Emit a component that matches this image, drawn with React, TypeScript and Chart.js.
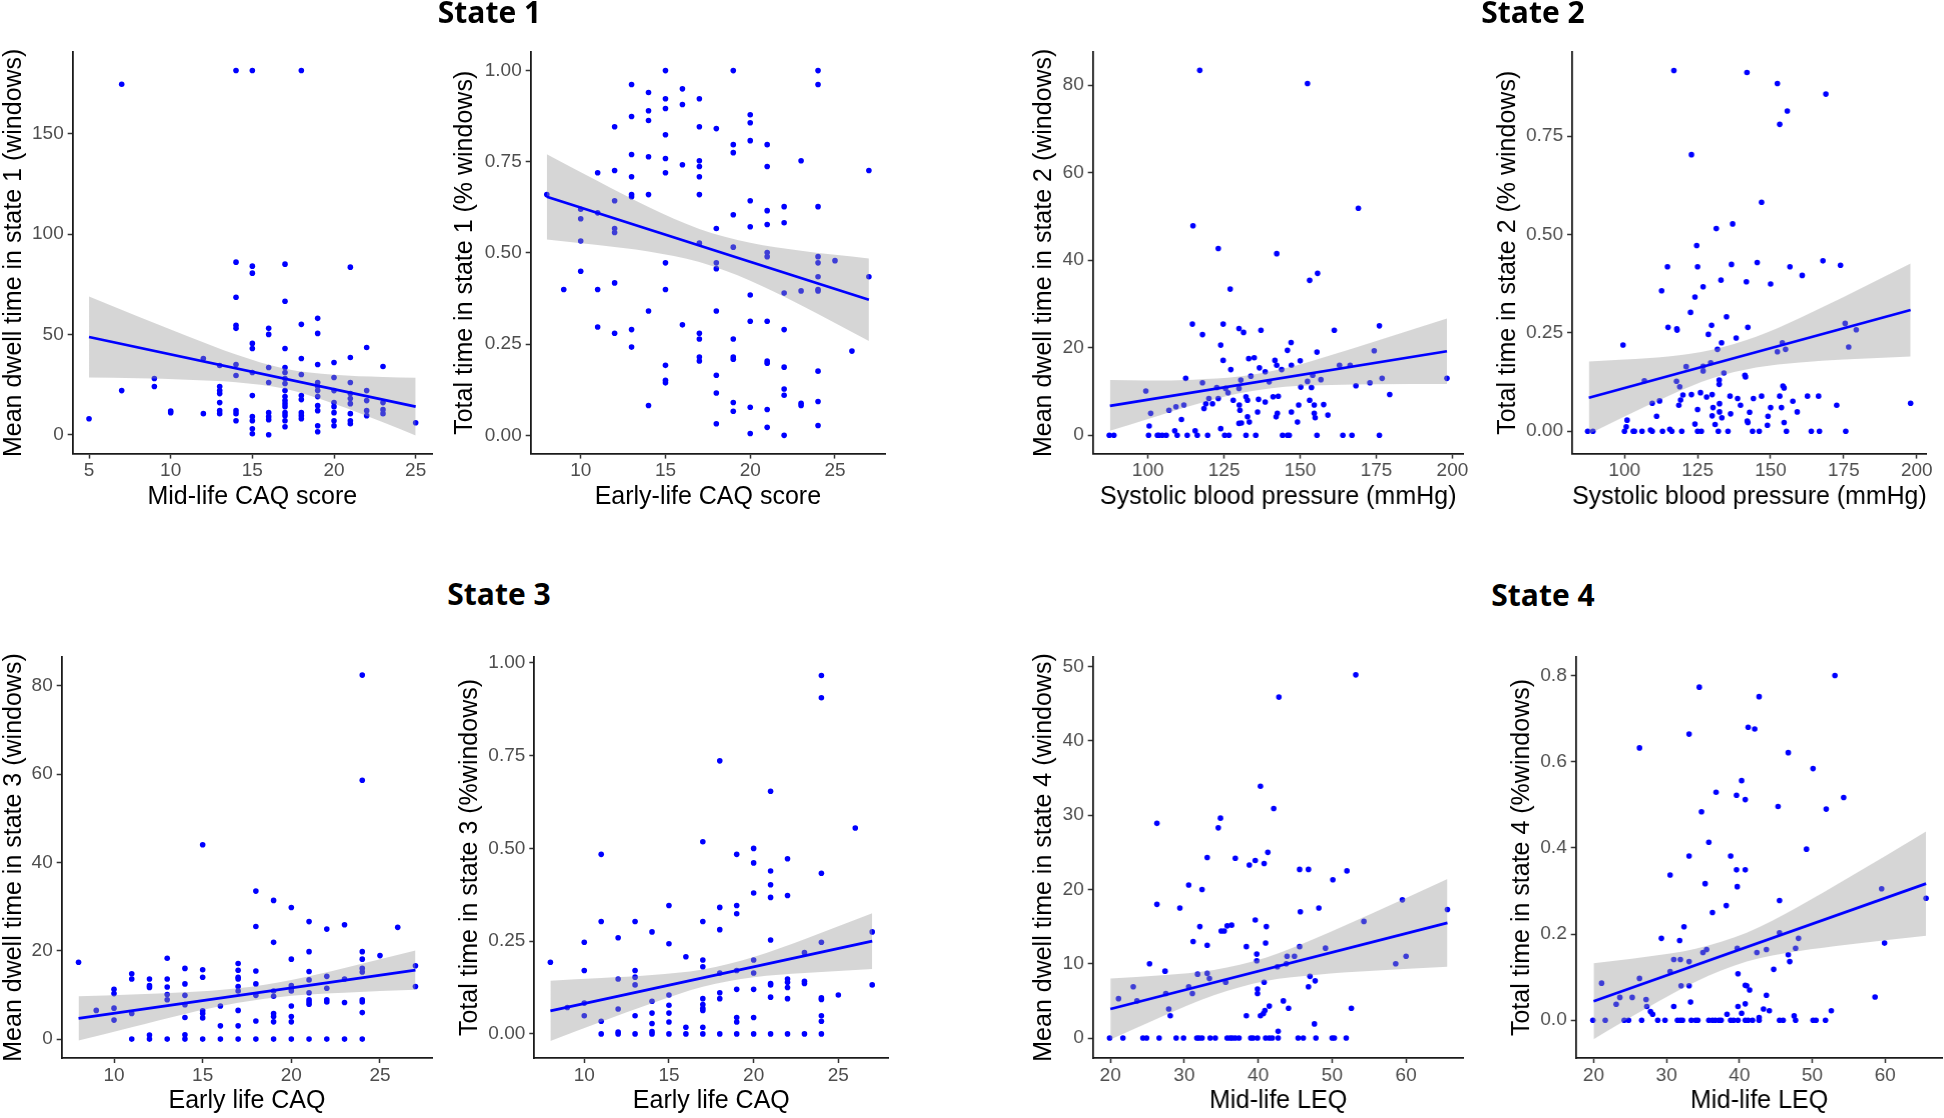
import React, { useEffect, useRef } from "react";
import { Chart, registerables } from "chart.js";

Chart.register(...registerables);

type Pt = [number, number];

// ---------------- State 1 : mean dwell time vs mid-life CAQ ----------------
const s1DwellPoints: Pt[] = [
  [5, 8], [7, 174.6], [7, 22], [9, 28], [9, 24], [10, 11], [10, 11.8], [12, 38], [12, 10.5],
  [13, 34.5], [13, 24], [13, 22], [13, 20.5], [13, 16], [13, 12], [13, 10.5],
  [14, 181.5], [14, 86], [14, 68.5], [14, 54.5], [14, 53], [14, 35], [14, 29.5], [14, 12], [14, 10.5], [14, 7],
  [15, 181.5], [15, 84], [15, 80.5], [15, 45.5], [15, 43], [15, 31], [15, 19.5], [15, 9], [15, 7], [15, 3], [15, 0.5],
  [16, 53], [16, 50], [16, 33.5], [16, 26], [16, 11], [16, 9], [16, 7.5], [16, 0],
  [17, 85], [17, 66.5], [17, 43], [17, 33.5], [17, 31], [17, 28], [17, 25.5], [17, 22], [17, 19], [17, 17], [17, 15.5], [17, 14], [17, 11], [17, 9.5], [17, 7], [17, 4],
  [18, 181.5], [18, 55], [18, 38], [18, 30], [18, 19.5], [18, 17.5], [18, 11], [18, 9.5], [18, 8],
  [19, 58], [19, 50.5], [19, 35], [19, 26], [19, 24], [19, 22], [19, 19], [19, 14.5], [19, 12], [19, 4.5], [19, 1.5],
  [20, 36], [20, 28.5], [20, 22], [20, 16], [20, 14], [20, 11], [20, 7], [20, 4.5],
  [21, 83.5], [21, 38.5], [21, 26], [21, 20.5], [21, 18], [21, 15.5], [21, 10.5], [21, 7], [21, 5.5],
  [22, 43.5], [22, 22], [22, 17], [22, 12], [22, 9.5],
  [23, 34], [23, 16], [23, 12.5], [23, 10.5],
  [25, 6],
];
const s1DwellFit: Pt[] = [[5, 48.7], [25, 14]];
const s1DwellBandX = [5, 8, 11, 14, 17, 20, 23, 25];
const s1DwellBandHi = [68.9, 58.9, 49.2, 40.0, 32.9, 29.9, 28.8, 28.4];
const s1DwellBandLo = [28.5, 28.1, 27.4, 26.2, 22.9, 15.5, 6.2, -0.4];

// ---------------- State 1 : total time vs early-life CAQ ----------------
const s1TotalPoints: Pt[] = [
  [8, 0.66], [9, 0.4], [10, 0.62], [10, 0.594], [10, 0.533], [10, 0.45],
  [11, 0.72], [11, 0.61], [11, 0.4], [11, 0.297],
  [12, 0.846], [12, 0.726], [12, 0.643], [12, 0.567], [12, 0.556], [12, 0.418], [12, 0.28],
  [13, 0.962], [13, 0.874], [13, 0.77], [13, 0.709], [13, 0.66], [13, 0.654], [13, 0.29], [13, 0.242],
  [14, 0.94], [14, 0.89], [14, 0.863], [14, 0.764], [14, 0.66], [14, 0.341], [14, 0.082],
  [15, 1.0], [15, 0.923], [15, 0.896], [15, 0.824], [15, 0.759], [15, 0.72], [15, 0.473], [15, 0.4], [15, 0.192], [15, 0.151], [15, 0.144],
  [16, 0.95], [16, 0.907], [16, 0.742], [16, 0.303],
  [17, 0.923], [17, 0.846], [17, 0.753], [17, 0.737], [17, 0.709], [17, 0.66], [17, 0.527], [17, 0.28], [17, 0.264], [17, 0.215], [17, 0.204],
  [18, 0.841], [18, 0.567], [18, 0.473], [18, 0.457], [18, 0.341], [18, 0.165], [18, 0.116], [18, 0.032],
  [19, 1.0], [19, 0.797], [19, 0.775], [19, 0.605], [19, 0.516], [19, 0.264], [19, 0.215], [19, 0.209], [19, 0.09], [19, 0.066],
  [20, 0.879], [20, 0.857], [20, 0.808], [20, 0.643], [20, 0.572], [20, 0.385], [20, 0.313], [20, 0.077], [20, 0.005],
  [21, 0.797], [21, 0.737], [21, 0.616], [21, 0.578], [21, 0.501], [21, 0.49], [21, 0.313], [21, 0.204], [21, 0.198], [21, 0.071], [21, 0.022],
  [22, 0.627], [22, 0.583], [22, 0.39], [22, 0.29], [22, 0.187], [22, 0.127], [22, 0.11], [22, 0.0],
  [23, 0.753], [23, 0.396], [23, 0.088], [23, 0.082],
  [24, 1.0], [24, 0.962], [24, 0.627], [24, 0.49], [24, 0.473], [24, 0.435], [24, 0.4], [24, 0.396], [24, 0.176], [24, 0.093], [24, 0.027],
  [25, 0.479], [26, 0.231], [27, 0.726], [27, 0.435],
];
const s1TotalFit: Pt[] = [[8, 0.654], [27, 0.372]];
const s1TotalBandX = [8, 11, 14, 17, 20, 23, 27];
const s1TotalBandHi = [0.771, 0.697, 0.626, 0.566, 0.528, 0.506, 0.485];
const s1TotalBandLo = [0.537, 0.522, 0.504, 0.475, 0.424, 0.357, 0.259];

// ---------------- State 2 : mean dwell time vs systolic BP ----------------
const s2DwellPoints: Pt[] = [
  [87.3, 0], [88.8, 0], [99.3, 10.1], [100.2, 0], [100.4, 2.1], [100.9, 5], [103.1, 0], [103.6, 0], [104.7, 0], [106, 0],
  [106.9, 5.7], [108.8, 1], [109.2, 6.5], [109.6, 0], [111, 3.6], [111.8, 6.9], [112.4, 13], [112.9, 0], [114.6, 25.4], [114.8, 47.9],
  [115.5, 1], [116.2, 0], [117, 83.4], [117.9, 12], [117.9, 23], [118.4, 6.1], [119, 7.2], [119.6, 0], [120, 8.4], [121.2, 7.2],
  [122.6, 10.9], [123.1, 8.4], [123.1, 42.7], [123.9, 20.6], [123.9, 1.5], [124.7, 25.4], [124.7, 17.1], [125.2, 0], [125.5, 10.7], [126.3, 9.7],
  [126.6, 0], [127, 33.4], [127.2, 15], [128, 8], [129.9, 24.4], [129.9, 10.7], [130, 6.9], [130.2, 5.7], [129.9, 2.7], [130.7, 2.8],
  [131.4, 23.5], [130.5, 12.6], [132.2, 0], [132.2, 8.8], [132.7, 8], [132.7, 4.2], [133.1, 17.5], [133.3, 3], [133.8, 13.5], [134.9, 17.7],
  [135.4, 0], [136, 5.3], [136.3, 8.2], [136.6, 15.4], [137.1, 24], [138.5, 7.6], [138.5, 14.5], [139.8, 12.2], [141.1, 8.8], [141.7, 17.1],
  [142.1, 4.2], [142.3, 41.5], [142.3, 16], [142.5, 5], [142.8, 8.9], [143.9, 15], [144.2, 0], [145.8, 0], [145.8, 19.4], [146.4, 0],
  [147, 21.2], [147.1, 16], [147.1, 5.3], [149.1, 3], [149.5, 6.9], [150, 17], [150.2, 11], [152.4, 12.3], [152.4, 80.4], [153.1, 35.4],
  [153.1, 8], [153.7, 10.9], [154.1, 13.7], [154.6, 6.9], [154.6, 5], [154.9, 4], [155.5, 0], [155.5, 19], [155.7, 37], [156.8, 12.7],
  [157.7, 7], [159.1, 4.6], [161.2, 24], [162.9, 16], [164, 0], [166.4, 16], [167, 0], [168.3, 11.3], [169.1, 51.9], [172.9, 12],
  [174.3, 19.3], [176, 25], [176, 0], [176.9, 13], [179.4, 9.3], [198.2, 13],
];
const s2DwellFit: Pt[] = [[87.5, 6.7], [198.2, 19.2]];
const s2DwellBandX = [87.5, 100, 115, 130, 145, 160, 175, 198.2];
const s2DwellBandHi = [12.6, 12.5, 12.7, 13.4, 15.3, 18.3, 21.55, 26.7];
const s2DwellBandLo = [1.0, 3.7, 6.9, 9.6, 11.1, 11.5, 11.65, 11.7];

// ---------------- State 2 : total time vs systolic BP ----------------
const s2TotalPoints: Pt[] = [
  [87.4, 0], [89.2, 0], [99.5, 0.219], [100, 0], [100.6, 0.011], [100.9, 0.028], [103, 0], [103.4, 0], [106, 0], [106.8, 0.128],
  [108.9, 0.003], [109.5, 0], [109.5, 0.071], [111, 0.038], [112, 0.077], [112.7, 0.357], [113, 0], [114.7, 0.418], [114.9, 0.264], [115.5, 0.005],
  [116.2, 0], [116.9, 0.917], [117.8, 0.127], [117.9, 0.26], [118, 0.257], [118.6, 0.066], [118.9, 0.113], [119.2, 0.079], [119.6, 0], [120, 0.092],
  [121.1, 0.164], [122.6, 0.302], [122.9, 0.703], [122.9, 0.093], [124.1, 0.341], [124.1, 0.018], [124.7, 0.472], [125, 0.418], [125, 0.055], [125, 0],
  [126.3, 0], [126, 0.098], [126.9, 0.367], [126.9, 0.165], [126.9, 0.153], [128.1, 0.087], [128.7, 0.246], [129.5, 0.174], [129.8, 0.269], [130, 0.093],
  [130, 0.039], [130.3, 0.06], [131, 0.017], [131.4, 0.515], [131.8, 0.208], [132.1, 0], [132.4, 0.13], [132.4, 0.119], [132.5, 0.07], [132.5, 0.049],
  [133, 0.384], [133.2, 0.225], [133.3, 0.034], [134, 0.148], [134.9, 0.291], [135.4, 0], [136.1, 0.089], [136.3, 0.044], [136.6, 0.424], [137, 0.527],
  [138.2, 0.237], [138.7, 0.083], [139.7, 0.066], [141.2, 0.142], [141.4, 0.138], [141.7, 0.38], [141.9, 0.912], [142, 0.026], [142.2, 0.022], [142.2, 0.264],
  [142.8, 0.048], [143.8, 0], [144.1, 0.083], [146.1, 0], [145.4, 0.429], [146.9, 0.582], [146.9, 0.089], [148.9, 0.015], [149.1, 0.038], [150, 0.374],
  [150, 0.06], [152.3, 0.202], [152.3, 0.884], [153.1, 0.78], [153.1, 0.089], [153.7, 0.06], [154, 0.225], [154.2, 0.115], [154.6, 0.11], [154.6, 0.022],
  [155.1, 0.208], [155.4, 0], [155.7, 0.814], [156.6, 0.418], [157.6, 0.076], [159.1, 0.049], [160.8, 0.396], [162.6, 0.089], [163.9, 0], [166.4, 0.089],
  [166.7, 0], [167.9, 0.433], [168.9, 0.857], [172.6, 0.066], [173.9, 0.422], [175.5, 0.274], [175.7, 0], [176.7, 0.214], [179.3, 0.258], [197.9, 0.071],
];
const s2TotalFit: Pt[] = [[87.8, 0.085], [197.9, 0.308]];
const s2TotalBandX = [87.8, 100, 115, 130, 145, 160, 175, 197.9];
const s2TotalBandHi = [0.177, 0.182, 0.19, 0.207, 0.24, 0.288, 0.341, 0.426];
const s2TotalBandLo = [-0.007, 0.0375, 0.0896, 0.1344, 0.1618, 0.1748, 0.1823, 0.19];

// ---------------- State 3 : mean dwell time vs early life CAQ ----------------
const s3DwellPoints: Pt[] = [
  [8, 17.4], [9, 6.5], [10, 11.3], [10, 10.3], [10, 7], [10, 4.3],
  [11, 14.8], [11, 13.6], [11, 5.8], [11, 0],
  [12, 13.6], [12, 12.1], [12, 11.7], [12, 0.9], [12, 0],
  [13, 18.3], [13, 13.6], [13, 11.8], [13, 10.1], [13, 8.9], [13, 0],
  [14, 16], [14, 12.5], [14, 9.9], [14, 7.8], [14, 4.9], [14, 1], [14, 0],
  [15, 44], [15, 15.7], [15, 14], [15, 6.4], [15, 5.8], [15, 4.8], [15, 0],
  [16, 7.5], [16, 3], [16, 0],
  [17, 17.1], [17, 15.6], [17, 14], [17, 13.6], [17, 11.9], [17, 10.9], [17, 6.5], [17, 3], [17, 0],
  [18, 33.5], [18, 25.5], [18, 15.4], [18, 12.5], [18, 9.9], [18, 4.1], [18, 0],
  [19, 31.4], [19, 21.9], [19, 10.9], [19, 9.7], [19, 5.8], [19, 5.1], [19, 3.9], [19, 0],
  [20, 29.8], [20, 18.1], [20, 12.1], [20, 11.4], [20, 10.9], [20, 7.5], [20, 5.1], [20, 3.9], [20, 0],
  [21, 26.6], [21, 19.8], [21, 15.3], [21, 13.4], [21, 10.5], [21, 8.9], [21, 8.4], [21, 7.9], [21, 0],
  [22, 24.9], [22, 14.2], [22, 11.5], [22, 8.9], [22, 8.4], [22, 0],
  [23, 25.9], [23, 13.6], [23, 8.3], [23, 0],
  [24, 82.4], [24, 58.6], [24, 19.8], [24, 18.1], [24, 16], [24, 15.2], [24, 8.9], [24, 8.4], [24, 6], [24, 0],
  [25, 18.9], [26, 25.3], [27, 16.6], [27, 11.9],
];
const s3DwellFit: Pt[] = [[8, 4.7], [27, 15.6]];
const s3DwellBandX = [8, 11, 14, 17, 20, 23, 27];
const s3DwellBandHi = [9.7, 10.1, 10.6, 11.5, 13.4, 16.1, 20.05];
const s3DwellBandLo = [-0.3, 2.7, 5.7, 8.2, 9.8, 10.5, 11.15];

// ---------------- State 3 : total time vs early life CAQ ----------------
const s3TotalPoints: Pt[] = [
  [8, 0.193], [9, 0.071],
  [10, 0.247], [10, 0.171], [10, 0.083], [10, 0.049],
  [11, 0.484], [11, 0.303], [11, 0.034], [11, 0],
  [12, 0.259], [12, 0.148], [12, 0.067], [12, 0.005], [12, 0],
  [13, 0.303], [13, 0.171], [13, 0.153], [13, 0.132], [13, 0.049], [13, 0],
  [14, 0.275], [14, 0.088], [14, 0.056], [14, 0.028], [14, 0.006], [14, 0],
  [15, 0.346], [15, 0.243], [15, 0.105], [15, 0.077], [15, 0.056], [15, 0.032], [15, 0],
  [16, 0.208], [16, 0.018], [16, 0],
  [17, 0.518], [17, 0.303], [17, 0.199], [17, 0.181], [17, 0.095], [17, 0.079], [17, 0.069], [17, 0.063], [17, 0.018], [17, 0],
  [18, 0.736], [18, 0.341], [18, 0.281], [18, 0.164], [18, 0.111], [18, 0.095], [18, 0],
  [19, 0.484], [19, 0.346], [19, 0.324], [19, 0.171], [19, 0.12], [19, 0.044], [19, 0.032], [19, 0],
  [20, 0.5], [20, 0.461], [20, 0.38], [20, 0.199], [20, 0.164], [20, 0.12], [20, 0.044], [20, 0],
  [21, 0.654], [21, 0.439], [21, 0.402], [21, 0.368], [21, 0.253], [21, 0.136], [21, 0.132], [21, 0.099], [21, 0],
  [22, 0.472], [22, 0.373], [22, 0.148], [22, 0.139], [22, 0.125], [22, 0.095], [22, 0],
  [23, 0.219], [23, 0.142], [23, 0.136], [23, 0],
  [24, 0.966], [24, 0.906], [24, 0.433], [24, 0.247], [24, 0.097], [24, 0.093], [24, 0.049], [24, 0.034], [24, 0],
  [25, 0.105], [26, 0.555], [27, 0.275], [27, 0.132],
];
const s3TotalFit: Pt[] = [[8, 0.062], [27, 0.25]];
const s3TotalBandX = [8, 11, 14, 17, 20, 23, 27];
const s3TotalBandHi = [0.1435, 0.1507, 0.1586, 0.1734, 0.2073, 0.2553, 0.325];
const s3TotalBandLo = [-0.0195, 0.0327, 0.0824, 0.127, 0.1525, 0.1639, 0.175];

// ---------------- State 4 : mean dwell time vs mid-life LEQ ----------------
const s4DwellPoints: Pt[] = [
  [19.9, 0], [21.1, 5.3], [21.7, 0], [23.1, 6.9], [23.6, 5], [24.4, 0], [24.9, 0], [25.3, 10], [26.3, 28.9], [26.3, 18],
  [26.6, 0], [27.4, 9], [27.5, 6], [27.9, 3.9], [28.1, 3], [28.9, 0], [29.4, 17.5], [29.9, 0], [30.6, 20.6], [30.6, 6.9],
  [31.1, 6], [31.2, 13], [31.7, 0], [32, 0], [32.4, 0], [31.8, 8.6], [32.1, 15], [32.4, 20], [33.1, 24.3], [33.1, 12.5],
  [33.1, 8.7], [33.4, 8], [33.5, 0], [34.2, 0], [34.6, 28.3], [34.9, 29.6], [35, 14.4], [35.4, 14.4], [35.6, 7.5], [35.8, 0],
  [36.2, 0], [36.5, 0], [36.9, 0], [37.4, 0], [35.8, 15.1], [36.4, 15.2], [36.9, 24.2], [38.4, 12.3], [38.4, 3], [38.8, 23.3],
  [39, 0], [39.3, 0], [39.9, 0], [39.6, 15.9], [39.6, 23.9], [39.8, 11.3], [39.8, 10.4], [39.9, 6.6], [39.9, 6], [40.3, 33.9],
  [40.3, 3], [40.7, 3.3], [40.8, 23.5], [40.8, 7.5], [40.9, 3.7], [41, 12.8], [41.1, 15], [41, 0], [41.5, 0], [41.9, 0],
  [41.3, 25], [41.5, 4.3], [42.1, 30.9], [42.7, 0.9], [42.7, 0], [42.8, 45.9], [42.6, 9.6], [43.4, 5], [43.8, 10], [43.9, 11],
  [44.1, 4], [44.9, 11], [45.4, 0], [46.1, 0], [45.6, 22.7], [45.6, 12.3], [45.7, 17], [46.8, 22.7], [46.8, 6.9], [47, 8.3],
  [47.7, 7.7], [47.6, 1.9], [47.8, 0], [48.2, 17.5], [49.1, 12.1], [50, 0], [50.3, 0], [50.1, 21.3], [51.9, 0], [52, 22.5],
  [52.6, 4], [53.2, 48.9], [54.3, 15.7], [58.6, 10], [59.5, 18.6], [60, 11], [65.6, 17.3],
];
const s4DwellFit: Pt[] = [[20, 3.9], [65.6, 15.5]];
const s4DwellBandX = [20, 27, 34, 41, 48, 55, 65.6];
const s4DwellBandHi = [8.0, 8.46, 9.17, 10.8, 13.52, 16.59, 21.4];
const s4DwellBandLo = [-0.2, 2.9, 5.75, 7.68, 8.52, 9.01, 9.6];

// ---------------- State 4 : total time vs mid-life LEQ ----------------
const s4TotalPoints: Pt[] = [
  [19.9, 0], [21.1, 0.086], [21.6, 0], [23.1, 0.037], [23.6, 0.053], [24.2, 0], [24.8, 0], [25.3, 0.053], [26.3, 0.632], [26.3, 0.097],
  [26.6, 0], [27.2, 0.048], [27.3, 0.032], [27.8, 0.02], [28.1, 0.014], [28.8, 0], [29.3, 0.19], [29.8, 0], [30.5, 0.337], [30.5, 0.113],
  [31, 0.141], [31, 0.032], [31.5, 0], [31.9, 0], [32.2, 0], [31.8, 0.185], [31.9, 0.141], [32, 0.08], [32.4, 0.217], [33.1, 0.664],
  [33.1, 0.381], [33.1, 0.136], [33.1, 0.08], [33.3, 0.042], [33.4, 0], [34, 0], [34.3, 0], [34.5, 0.773], [34.8, 0.484], [35, 0.157],
  [35.3, 0.317], [35.5, 0.164], [35.8, 0.413], [35.8, 0], [36.3, 0], [36.7, 0], [37.2, 0], [37.5, 0], [36.3, 0.25], [36.8, 0.529],
  [38.3, 0.014], [38.2, 0.266], [38.8, 0.381], [38.8, 0], [39.2, 0], [39.8, 0], [39.6, 0.522], [39.6, 0.349], [39.7, 0.31], [39.7, 0.167],
  [39.8, 0.108], [39.8, 0.032], [40.3, 0.556], [40.3, 0.016], [40.8, 0.512], [40.8, 0.349], [40.8, 0.081], [40.8, 0.038], [41, 0.08], [40.8, 0],
  [41.2, 0], [41.8, 0], [41.2, 0.68], [41.4, 0.07], [42.1, 0.676], [42.4, 0.157], [42.7, 0.751], [42.7, 0], [42.7, 0.006], [43.3, 0.026],
  [43.7, 0.164], [43.7, 0.058], [44.1, 0.022], [44.7, 0.118], [45.3, 0.496], [45.5, 0], [46, 0], [45.5, 0.278], [45.5, 0.203], [46.7, 0.621],
  [46.7, 0.152], [46.9, 0.136], [47.5, 0.01], [47.7, 0], [47.7, 0.167], [48.1, 0.19], [49.2, 0.397], [50.1, 0.584], [50.1, 0], [50.5, 0],
  [51.8, 0], [51.9, 0.49], [52.6, 0.022], [53.1, 0.8], [54.3, 0.517], [58.6, 0.054], [59.5, 0.305], [59.9, 0.179], [65.6, 0.283],
];
const s4TotalFit: Pt[] = [[20, 0.044], [65.6, 0.317]];
const s4TotalBandX = [20, 27, 34, 41, 48, 55, 65.6];
const s4TotalBandHi = [0.132, 0.1465, 0.1659, 0.2029, 0.2627, 0.331, 0.438];
const s4TotalBandLo = [-0.044, 0.0253, 0.0893, 0.1361, 0.1601, 0.176, 0.196];

// ---------------- tick values ----------------
const caqTicksMid = [5, 10, 15, 20, 25];
const caqTicksEarly = [10, 15, 20, 25];
const sbpTicks = [100, 125, 150, 175, 200];
const leqTicks = [20, 30, 40, 50, 60];
const dwell1Ticks = [0, 50, 100, 150];
const dwell80Ticks = [0, 20, 40, 60, 80];
const dwell4Ticks = [0, 10, 20, 30, 40, 50];
const fracTicks = [0, 0.25, 0.5, 0.75, 1];
const frac2Ticks = [0, 0.25, 0.5, 0.75];
const frac4Ticks = [0, 0.2, 0.4, 0.6, 0.8];

const stateTitles = ["State 1", "State 2", "State 3", "State 4"];

// ---------------- layout / styling ----------------
const BLUE = "#0000FF";
const BAND = "rgba(153,153,153,0.4)";
const FONT = "'Liberation Sans', Arial, sans-serif";

interface PanelCfg {
  points: Pt[];
  fit: Pt[];
  bandX: number[];
  bandHi: number[];
  bandLo: number[];
  xRange: [number, number];
  yRange: [number, number];
  xTicks: number[];
  yTicks: number[];
  yDec: number;
  xTitle: string;
  yTitle: string;
  box: { l: number; t: number; r: number; b: number };
  yTitleX: number;
  xTitleY: number;
}

const ROW1 = { t: 51.7, b: 453.3, xt: 496.7 };
const ROW2 = { t: 657, b: 1058, xt: 1101.5 };

const panels: PanelCfg[] = [
  {
    points: s1DwellPoints, fit: s1DwellFit, bandX: s1DwellBandX, bandHi: s1DwellBandHi, bandLo: s1DwellBandLo,
    xRange: [4, 26], yRange: [-9.4, 190.7], xTicks: caqTicksMid, yTicks: dwell1Ticks, yDec: 0,
    xTitle: "Mid-life CAQ score", yTitle: "Mean dwell time in state 1 (windows)",
    box: { l: 72.7, t: ROW1.t, r: 432, b: ROW1.b }, yTitleX: 14, xTitleY: ROW1.xt,
  },
  {
    points: s1TotalPoints, fit: s1TotalFit, bandX: s1TotalBandX, bandHi: s1TotalBandHi, bandLo: s1TotalBandLo,
    xRange: [7.05, 27.95], yRange: [-0.05, 1.051], xTicks: caqTicksEarly, yTicks: fracTicks, yDec: 2,
    xTitle: "Early-life CAQ score", yTitle: "Total time in state 1 (% windows)",
    box: { l: 530.7, t: ROW1.t, r: 885, b: ROW1.b }, yTitleX: 465, xTitleY: ROW1.xt,
  },
  {
    points: s2DwellPoints, fit: s2DwellFit, bandX: s2DwellBandX, bandHi: s2DwellBandHi, bandLo: s2DwellBandLo,
    xRange: [81.9, 203.7], yRange: [-4.2, 87.6], xTicks: sbpTicks, yTicks: dwell80Ticks, yDec: 0,
    xTitle: "Systolic blood pressure (mmHg)", yTitle: "Mean dwell time in state 2 (windows)",
    box: { l: 1092.7, t: ROW1.t, r: 1462.7, b: ROW1.b }, yTitleX: 1044, xTitleY: ROW1.xt,
  },
  {
    points: s2TotalPoints, fit: s2TotalFit, bandX: s2TotalBandX, bandHi: s2TotalBandHi, bandLo: s2TotalBandLo,
    xRange: [82.1, 203.4], yRange: [-0.057, 0.964], xTicks: sbpTicks, yTicks: frac2Ticks, yDec: 2,
    xTitle: "Systolic blood pressure (mmHg)", yTitle: "Total time in state 2 (% windows)",
    box: { l: 1572, t: ROW1.t, r: 1925.7, b: ROW1.b }, yTitleX: 1508, xTitleY: ROW1.xt,
  },
  {
    points: s3DwellPoints, fit: s3DwellFit, bandX: s3DwellBandX, bandHi: s3DwellBandHi, bandLo: s3DwellBandLo,
    xRange: [7.05, 27.95], yRange: [-4.28, 86.5], xTicks: caqTicksEarly, yTicks: dwell80Ticks, yDec: 0,
    xTitle: "Early life CAQ", yTitle: "Mean dwell time in state 3 (windows)",
    box: { l: 61.7, t: ROW2.t, r: 432.3, b: ROW2.b }, yTitleX: 14, xTitleY: ROW2.xt,
  },
  {
    points: s3TotalPoints, fit: s3TotalFit, bandX: s3TotalBandX, bandHi: s3TotalBandHi, bandLo: s3TotalBandLo,
    xRange: [7.05, 27.95], yRange: [-0.065, 1.016], xTicks: caqTicksEarly, yTicks: fracTicks, yDec: 2,
    xTitle: "Early life CAQ", yTitle: "Total time in state 3 (%windows)",
    box: { l: 534.3, t: ROW2.t, r: 888.3, b: ROW2.b }, yTitleX: 470, xTitleY: ROW2.xt,
  },
  {
    points: s4DwellPoints, fit: s4DwellFit, bandX: s4DwellBandX, bandHi: s4DwellBandHi, bandLo: s4DwellBandLo,
    xRange: [17.63, 67.8], yRange: [-2.69, 51.3], xTicks: leqTicks, yTicks: dwell4Ticks, yDec: 0,
    xTitle: "Mid-life LEQ", yTitle: "Mean dwell time in state 4 (windows)",
    box: { l: 1092.7, t: ROW2.t, r: 1462.7, b: ROW2.b }, yTitleX: 1044, xTitleY: ROW2.xt,
  },
  {
    points: s4TotalPoints, fit: s4TotalFit, bandX: s4TotalBandX, bandHi: s4TotalBandHi, bandLo: s4TotalBandLo,
    xRange: [17.57, 67.88], yRange: [-0.0877, 0.843], xTicks: leqTicks, yTicks: frac4Ticks, yDec: 1,
    xTitle: "Mid-life LEQ", yTitle: "Total time in state 4 (%windows)",
    box: { l: 1575.7, t: ROW2.t, r: 1941.7, b: ROW2.b }, yTitleX: 1522, xTitleY: ROW2.xt,
  },
];

const titlePos = [
  { cx: 489.5, top: -3 },
  { cx: 1533, top: -3 },
  { cx: 499, top: 579 },
  { cx: 1543, top: 580 },
];

const TOP_PAD = 30;
const X_AXIS_H = 60;
const RIGHT_PAD = 20;

function Panel({ cfg }: { cfg: PanelCfg }) {
  const ref = useRef<HTMLCanvasElement | null>(null);
  const left = cfg.yTitleX - 20;
  const top = cfg.box.t - TOP_PAD;
  const width = cfg.box.r + RIGHT_PAD - left;
  const height = cfg.box.b + X_AXIS_H - top;
  const yW = cfg.box.l - left;
  const xTitlePadBottom = cfg.box.b + X_AXIS_H - 15 - cfg.xTitleY;

  useEffect(() => {
    if (!ref.current) return;
    const chart = new Chart(ref.current, {
      type: "scatter",
      data: {
        datasets: [
          {
            type: "scatter",
            data: cfg.points.map(([x, y]) => ({ x, y })),
            pointRadius: 2.8,
            pointBackgroundColor: BLUE,
            pointBorderColor: BLUE,
            pointBorderWidth: 0,
            order: 3,
          } as any,
          {
            type: "line",
            data: cfg.bandX.map((x, i) => ({ x, y: cfg.bandHi[i] })),
            borderColor: "rgba(0,0,0,0)",
            borderWidth: 0,
            pointRadius: 0,
            backgroundColor: BAND,
            fill: "+1",
            cubicInterpolationMode: "monotone",
            order: 2,
          } as any,
          {
            type: "line",
            data: cfg.bandX.map((x, i) => ({ x, y: cfg.bandLo[i] })),
            borderColor: "rgba(0,0,0,0)",
            borderWidth: 0,
            pointRadius: 0,
            fill: false,
            cubicInterpolationMode: "monotone",
            order: 2,
          } as any,
          {
            type: "line",
            data: cfg.fit.map(([x, y]) => ({ x, y })),
            borderColor: BLUE,
            borderWidth: 2.7,
            pointRadius: 0,
            fill: false,
            order: 1,
          } as any,
        ],
      },
      options: {
        animation: false,
        responsive: true,
        maintainAspectRatio: false,
        events: [],
        layout: {
          autoPadding: false,
          padding: { top: TOP_PAD, right: RIGHT_PAD, left: 0, bottom: 0 },
        },
        plugins: { legend: { display: false }, tooltip: { enabled: false }, title: { display: false } },
        scales: {
          x: {
            type: "linear",
            min: cfg.xRange[0],
            max: cfg.xRange[1],
            afterBuildTicks: (axis: any) => {
              axis.ticks = cfg.xTicks.map((value) => ({ value }));
            },
            afterFit: (axis: any) => {
              axis.height = X_AXIS_H;
            },
            grid: {
              display: true,
              drawOnChartArea: false,
              drawTicks: true,
              tickLength: 5,
              tickColor: "#333333",
              tickWidth: 1.5,
            },
            border: { display: true, color: "#1a1a1a", width: 1.8 },
            ticks: {
              padding: 1,
              color: "#4D4D4D",
              font: { family: FONT, size: 19 },
              maxRotation: 0,
              callback: (v: any) => String(v),
            },
            title: {
              display: true,
              text: cfg.xTitle,
              color: "#000000",
              font: { family: FONT, size: 25 },
              padding: { top: 0, bottom: xTitlePadBottom },
            },
          },
          y: {
            type: "linear",
            min: cfg.yRange[0],
            max: cfg.yRange[1],
            afterBuildTicks: (axis: any) => {
              axis.ticks = cfg.yTicks.map((value) => ({ value }));
            },
            afterFit: (axis: any) => {
              axis.width = yW;
            },
            grid: {
              display: true,
              drawOnChartArea: false,
              drawTicks: true,
              tickLength: 5,
              tickColor: "#333333",
              tickWidth: 1.5,
            },
            border: { display: true, color: "#1a1a1a", width: 1.8 },
            ticks: {
              padding: 4,
              color: "#4D4D4D",
              font: { family: FONT, size: 19 },
              callback: (v: any) => Number(v).toFixed(cfg.yDec),
            },
            title: {
              display: true,
              text: cfg.yTitle,
              color: "#000000",
              font: { family: FONT, size: 25 },
              padding: { top: 5, bottom: 0 },
            },
          },
        },
      } as any,
    });
    return () => chart.destroy();
  }, [cfg]);

  return (
    <div style={{ position: "absolute", left, top, width, height }}>
      <canvas ref={ref} />
    </div>
  );
}

export default function App() {
  return (
    <div
      style={{
        position: "fixed",
        left: 0,
        top: 0,
        width: 1944,
        height: 1118,
        overflow: "hidden",
        background: "#ffffff",
      }}
    >
      {panels.map((p, i) => (
        <Panel key={i} cfg={p} />
      ))}
      {stateTitles.map((t, i) => (
        <div
          key={t}
          style={{
            position: "absolute",
            left: titlePos[i].cx - 100,
            width: 200,
            top: titlePos[i].top,
            textAlign: "center",
            fontFamily: "'Open Sans', sans-serif",
            fontWeight: 700,
            fontSize: 30,
            lineHeight: "30px",
            color: "#000",
            whiteSpace: "nowrap",
          }}
        >
          {t}
        </div>
      ))}
    </div>
  );
}
